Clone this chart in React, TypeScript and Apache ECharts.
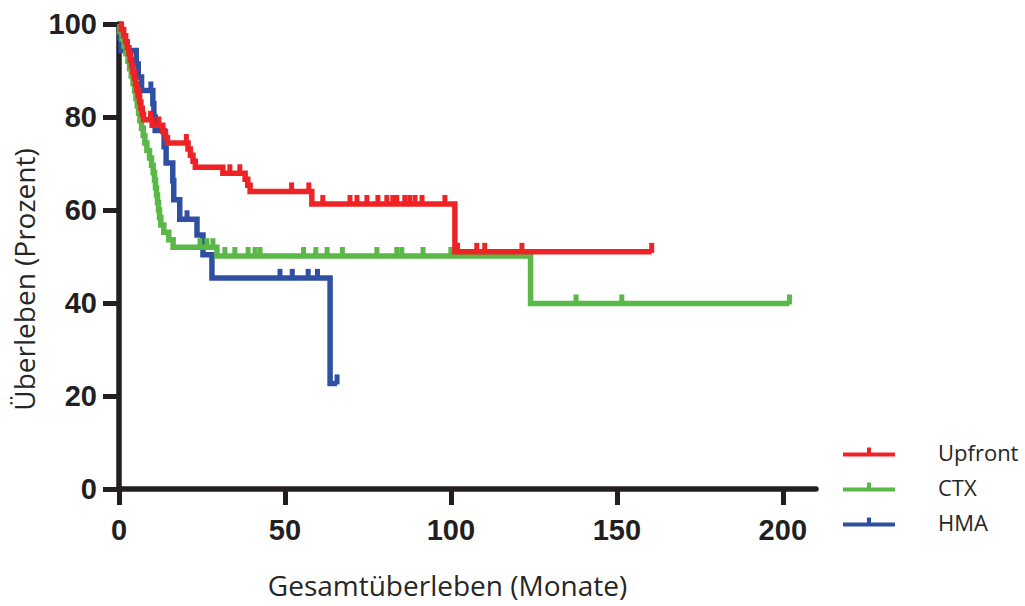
import React, { useEffect, useRef } from "react";
import * as echarts from "echarts";

// ---- data ----
const xTicks = [0, 50, 100, 150, 200];
const yTicks = [0, 20, 40, 60, 80, 100];
const seriesNames = ["Upfront", "CTX", "HMA"];
const seriesColors = ["#EE2326", "#59B847", "#2F50A2"];

// Kaplan–Meier steps: [months, survival %]; survival becomes the value at that time
const upfrontSteps: [number, number][] = [
  [0, 100], [0.7, 98.8], [1.4, 97.5], [2, 96.2], [2.5, 94.9], [3, 93.6], [3.4, 92.3],
  [3.8, 91], [4.2, 89.7], [4.6, 88.4], [5, 87.1], [5.4, 85.8], [5.8, 84.5], [6.2, 83.2],
  [6.6, 81.9], [7, 80.6], [7.4, 79.4], [10, 78.2], [13.2, 76.9], [14, 75.6], [14.6, 74.4],
  [20.8, 73.1], [21.5, 71.8], [22.3, 70.5], [23, 69.2], [31.3, 67.9], [38, 66.6],
  [38.8, 65.3], [39.5, 64], [58.1, 61.3], [101.2, 51],
];
const upfrontEnd = 160.5;
const upfrontCensored = [
  9.5, 12, 20.3, 33.4, 36.4, 52, 57.2, 61.4, 69.6, 71.7, 74.7, 78, 80.7, 82.5, 83.7,
  86.1, 87.6, 89.2, 91.3, 98.2, 102, 107.8, 110.2, 121.4, 160.5,
];

const ctxSteps: [number, number][] = [
  [0, 100], [0.3, 98.4], [0.9, 96.8], [1.5, 95.2], [2.1, 93.6], [2.7, 92], [3.2, 90.4],
  [3.7, 88.8], [4.2, 87.2], [4.7, 85.6], [5.1, 84], [5.5, 82.4], [5.9, 80.8], [6.3, 79.2],
  [6.8, 77.6], [7.3, 76], [7.8, 74.4], [8.4, 72.8], [9.2, 71.2], [9.8, 69.6], [10.3, 68],
  [10.7, 66.4], [11, 64.8], [11.3, 63.2], [11.6, 61.6], [11.9, 60], [12.2, 58.4],
  [12.6, 56.8], [13.5, 55.2], [15, 53.6], [16.3, 52], [29.5, 50.1], [124, 39.9],
];
const ctxEnd = 202;
const ctxCensored = [
  24.4, 26.5, 28.3, 31.9, 34.9, 38.9, 41, 42.5, 55.6, 59.3, 62.7, 67.3, 77.7, 83.7,
  85.2, 91.6, 100, 137.7, 151.5, 202,
];

const hmaSteps: [number, number][] = [
  [0, 100], [0.3, 97.1], [0.6, 94.3], [5.2, 91.4], [5.8, 88.6], [6.8, 85.7], [10.2, 82.9],
  [10.5, 80], [10.9, 77.1], [13.6, 73.6], [14.2, 70.1], [16.2, 66.3], [16.5, 62.2],
  [18.3, 58], [23.5, 54.6], [25.3, 50.4], [28, 45.4], [63.6, 22.7],
];
const hmaEnd = 65.7;
const hmaCensored = [9.6, 20.5, 48.5, 52.2, 57, 59.8, 65.7];

// ---- helpers ----
function survivalAt(steps: [number, number][], t: number): number {
  let s = steps[0][1];
  for (const [x, y] of steps) {
    if (x <= t) s = y;
    else break;
  }
  return s;
}

const allSteps = [upfrontSteps, ctxSteps, hmaSteps];
const allEnds = [upfrontEnd, ctxEnd, hmaEnd];
const allCensored = [upfrontCensored, ctxCensored, hmaCensored];

const AXIS_COLOR = "#231F20";
const TEXT_COLOR = "#262626";
const LINE_W = 5.5;

export default function App() {
  const ref = useRef<HTMLDivElement>(null);

  useEffect(() => {
    if (!ref.current) return;
    const chart = echarts.init(ref.current, undefined, { renderer: "svg" });

    const order = [2, 1, 0]; // draw HMA first, Upfront on top
    const series: any[] = [];
    order.forEach((i) => {
      const steps = allSteps[i];
      const lineData = [...steps, [allEnds[i], steps[steps.length - 1][1]]];
      series.push({
        name: seriesNames[i],
        type: "line",
        step: "end",
        data: lineData,
        showSymbol: false,
        symbol: "none",
        lineStyle: { color: seriesColors[i], width: LINE_W, cap: "butt", join: "miter", opacity: 1 },
        itemStyle: { color: seriesColors[i] },
        z: 2 + (2 - i),
      });
      series.push({
        name: seriesNames[i] + " zensiert",
        type: "scatter",
        data: allCensored[i].map((t) => [t, survivalAt(steps, t)]),
        symbol: "rect",
        symbolSize: [5, 10],
        symbolOffset: [0, -4],
        itemStyle: { color: seriesColors[i], opacity: 1 },
        z: 2 + (2 - i),
      });
    });

    chart.setOption({
      animation: false,
      backgroundColor: "#ffffff",
      grid: { left: 119, top: 24, width: 697, height: 465, containLabel: false },
      legend: {
        data: seriesNames.map((n, i) => ({ name: n, itemStyle: { color: seriesColors[i] } })),
        orient: "vertical",
        left: 838,
        top: 435,
        itemWidth: 52,
        itemHeight: 10,
        itemGap: 11,
        icon: "path://M0,5 L52,5 L52,9 L0,9 Z M24,0 L28,0 L28,5 L24,5 Z",
        textStyle: {
          fontFamily: "Open Sans",
          fontSize: 22,
          lineHeight: 24,
          color: TEXT_COLOR,
          padding: [0, 0, 0, 38],
        },
        selectedMode: false,
      },
      xAxis: {
        type: "value",
        min: 0,
        max: 210,
        interval: 50,
        name: "Gesamtüberleben (Monate)",
        nameLocation: "middle",
        nameGap: 82,
        nameTextStyle: {
          fontFamily: "Open Sans",
          fontSize: 28,
          color: TEXT_COLOR,
          padding: [0, 40, 0, 0],
        },
        splitLine: { show: false },
        axisLine: { show: true, lineStyle: { color: AXIS_COLOR, width: LINE_W } },
        axisTick: {
          show: true,
          length: 16,
          lineStyle: { color: AXIS_COLOR, width: 5 },
          customValues: xTicks,
        },
        axisLabel: {
          customValues: xTicks,
          margin: 26,
          fontFamily: "Liberation Sans",
          fontWeight: "bold",
          fontSize: 29,
          color: AXIS_COLOR,
        },
      },
      yAxis: {
        type: "value",
        min: 0,
        max: 100,
        interval: 20,
        name: "Überleben (Prozent)",
        nameLocation: "middle",
        nameGap: 80,
        nameRotate: 90,
        nameTextStyle: {
          fontFamily: "Open Sans",
          fontSize: 28,
          color: TEXT_COLOR,
          padding: [0, 46, 0, 0],
        },
        splitLine: { show: false },
        axisLine: { show: true, lineStyle: { color: AXIS_COLOR, width: LINE_W } },
        axisTick: {
          show: true,
          length: 16,
          lineStyle: { color: AXIS_COLOR, width: 5 },
          customValues: yTicks,
        },
        axisLabel: {
          customValues: yTicks,
          margin: 22,
          fontFamily: "Liberation Sans",
          fontWeight: "bold",
          fontSize: 29,
          color: AXIS_COLOR,
        },
      },
      series,
    });

    return () => chart.dispose();
  }, []);

  return (
    <div
      ref={ref}
      style={{ position: "fixed", left: 0, top: 0, width: 1025, height: 606, background: "#fff" }}
    />
  );
}
